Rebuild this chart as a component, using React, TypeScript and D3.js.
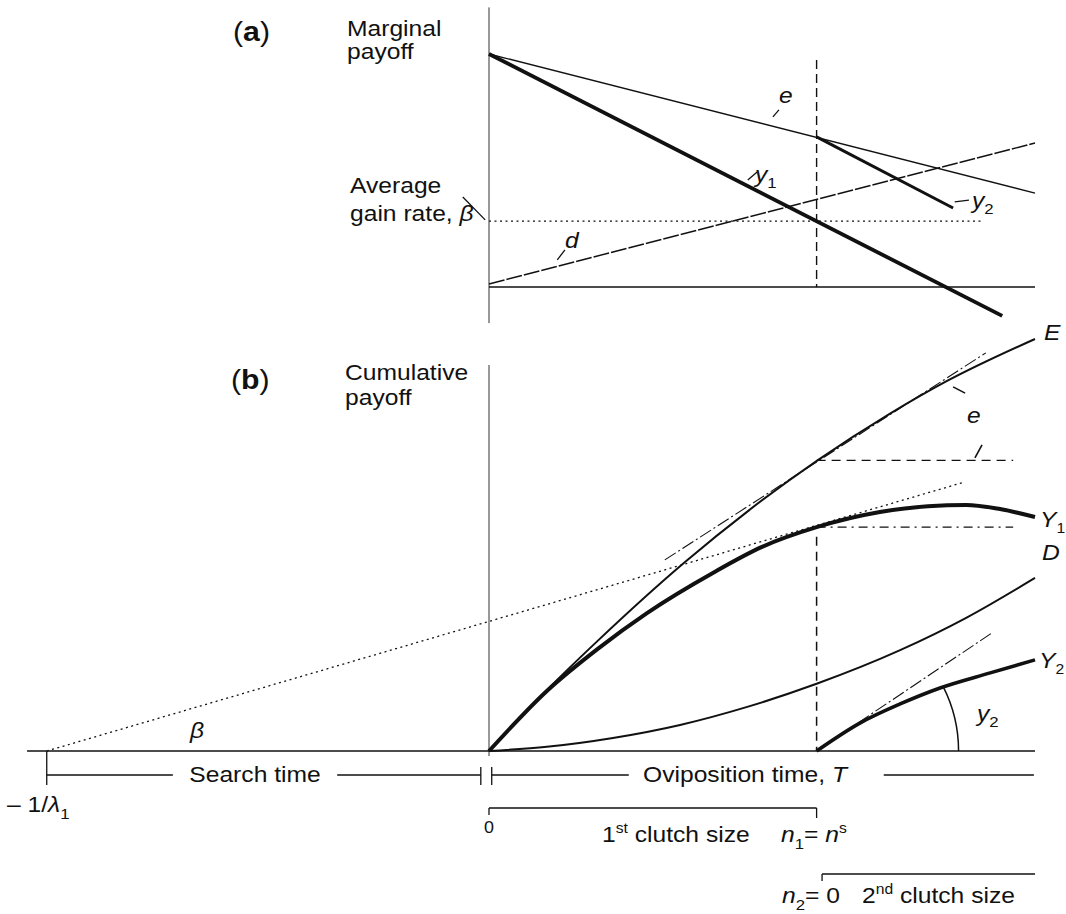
import React from 'react'
import * as d3 from 'd3'

const W = 1066
const H = 914

// shared time axis: 0 = start of oviposition
const tStart = -84.6
const tEnd = 100
const searchStart = -81 // -1/lambda1
const n1 = 60

// (a) marginal payoff, [time, value]
const eMarginal = [[0, 100], [100, 40.3]]
const y1Marginal = [[0, 100], [94, -12.4]]
const y2Marginal = [[60, 64.4], [85, 33.9]]
const dMarginal = [[0, 1.3], [100, 61.8]]
const betaRate = 28.3
const betaRateEnd = 90.3

// (b) cumulative payoff, [time, value]
const E = [[0, 0], [10.6, 14.5], [19.8, 26.1], [35.9, 45], [47.6, 57.3], [60.3, 69.3],
  [73.3, 80.2], [83.9, 88.1], [100, 98.1]]
const Y1 = [[0, 0], [10.6, 14.3], [19.8, 24.2], [29, 32.9], [41, 42.4], [50, 48.6], [60, 53.3],
  [71.6, 56.9], [80.4, 58.3], [87.4, 58.6], [93.6, 57.6], [100, 55.7]]
const D = [[0, 0], [10.6, 1], [22.7, 3.1], [35, 6.2], [47.3, 10.5], [60, 16], [75.3, 24], [87.4, 31.7], [100, 41.2]]
const Y2 = [[60, 0], [68, 6.7], [75.3, 11.2], [82.6, 15], [91.8, 18.6], [100, 21.7]]
const eTangent = [[32.2, 45.5], [91, 94.8]]
const y2Tangent = [[67.6, 6.7], [92.1, 28.1]]
const betaLine = [[-81, 0], [87, 64]]
const eAtN1 = 69.2
const y1AtN1 = 53.3
const guideEnd = 96
const arcRadius = 26 // in time units
const arcAngle = 0.47

const FONT = '"Liberation Sans", Arial, Helvetica, sans-serif'
const SX = 1.12
const INK = '#111'

function Txt({ x, y, size = 22, anchor = 'start', italic = false, children }: any) {
  return (
    <text transform={`translate(${x},${y}) scale(${SX},1)`} fontSize={size} textAnchor={anchor}
      fontStyle={italic ? 'italic' : 'normal'} fontFamily={FONT} fill={INK}>
      {children}
    </text>
  )
}

function Sub({ children, dy = 6, dx = 0, size = 15 }: any) {
  return <tspan fontSize={size} fontStyle="normal" dx={dx} dy={dy}>{children}</tspan>
}

export default function App() {
  const x = d3.scaleLinear().domain([0, 100]).range([489, 1035])
  const ya = d3.scaleLinear().domain([0, 100]).range([287, 54])
  const yb = d3.scaleLinear().domain([0, 100]).range([751, 331])

  const lineA = d3.line<number[]>().x(d => x(d[0])).y(d => ya(d[1]))
  const lineB = d3.line<number[]>().x(d => x(d[0])).y(d => yb(d[1]))
  const curveB = d3.line<number[]>().x(d => x(d[0])).y(d => yb(d[1])).curve(d3.curveMonotoneX)

  // angle arc for y2
  const cx = x(n1), cy = yb(0), r = x(n1 + arcRadius) - x(n1)
  const arc = d3.path()
  arc.arc(cx, cy, r, -arcAngle, 0)

  const seg = (x1: number, y1: number, x2: number, y2: number, extra: any = {}) => (
    <line x1={x1} y1={y1} x2={x2} y2={y2} stroke={INK} strokeWidth={1.3} {...extra} />
  )

  const bracketY = 775
  const clutch1Y = 808
  const clutch2Y = 874

  return (
    <svg width={W} height={H} style={{ position: 'absolute', left: 0, top: 0, background: '#fff' }}>
      {/* ---------- (a) ---------- */}
      <Txt x={233} y={41} size={27}>(<tspan fontWeight="bold">a</tspan>)</Txt>
      <Txt x={347} y={36}>Marginal</Txt>
      <Txt x={347} y={59}>payoff</Txt>
      <Txt x={350} y={193}>Average</Txt>
      <Txt x={350} y={221}>gain rate, <tspan fontStyle="italic">β</tspan></Txt>
      {seg(x(-4.8), ya(38.6), x(-0.7), ya(28.8))}

      {seg(x(0), ya(120), x(0), ya(-15.5), { stroke: '#333', strokeWidth: 1 })}
      {seg(x(0), ya(0), x(100), ya(0), { strokeWidth: 1.6 })}
      <path d={lineA(eMarginal) || ''} fill="none" stroke={INK} strokeWidth={1.4} />
      <path d={lineA(dMarginal) || ''} fill="none" stroke={INK} strokeWidth={1.4} strokeDasharray="16,2" />
      {seg(x(0), ya(betaRate), x(betaRateEnd), ya(betaRate), { strokeDasharray: '2,3.5', strokeWidth: 1.3 })}
      {seg(x(n1), ya(97.4), x(n1), ya(0), { strokeDasharray: '9,5', strokeWidth: 1.4 })}
      <path d={lineA(y1Marginal) || ''} fill="none" stroke={INK} strokeWidth={3.8} />
      <path d={lineA(y2Marginal) || ''} fill="none" stroke={INK} strokeWidth={3} />

      <Txt x={779} y={103} italic>e</Txt>
      {seg(x(52), ya(73), x(53.1), ya(76))}
      <Txt x={755} y={182} italic>y<Sub>1</Sub></Txt>
      {seg(x(47.4), ya(45.9), x(49.1), ya(49.4))}
      <Txt x={972} y={208} italic>y<Sub>2</Sub></Txt>
      {seg(x(85.3), ya(36.5), x(87.9), ya(37.3))}
      <Txt x={565} y={248} italic>d</Txt>
      {seg(x(12.5), ya(11.6), x(13.9), ya(15.9))}

      {/* ---------- (b) ---------- */}
      <Txt x={231} y={389} size={27}>(<tspan fontWeight="bold">b</tspan>)</Txt>
      <Txt x={345} y={380}>Cumulative</Txt>
      <Txt x={345} y={405}>payoff</Txt>

      {seg(x(0), yb(91.9), x(0), yb(-1.2), { stroke: '#333', strokeWidth: 1 })}
      {seg(x(tStart), yb(0), x(tEnd), yb(0), { strokeWidth: 1.6 })}

      <path d={lineB(betaLine) || ''} fill="none" stroke={INK} strokeWidth={1.3} strokeDasharray="2,3.5" />
      <path d={lineB(eTangent) || ''} fill="none" stroke={INK} strokeWidth={1.1} strokeDasharray="13,3,2,3" />
      <path d={lineB(y2Tangent) || ''} fill="none" stroke={INK} strokeWidth={1.1} strokeDasharray="13,3,2,3" />
      {seg(x(n1), yb(eAtN1), x(guideEnd), yb(eAtN1), { strokeDasharray: '9,6', strokeWidth: 1.3 })}
      {seg(x(n1), yb(y1AtN1), x(guideEnd), yb(y1AtN1), { strokeDasharray: '9,5,2,5', strokeWidth: 1.2 })}
      {seg(x(n1), yb(51), x(n1), yb(0), { strokeDasharray: '9,6', strokeWidth: 1.5 })}

      <path d={curveB(E) || ''} fill="none" stroke={INK} strokeWidth={2} />
      <path d={curveB(D) || ''} fill="none" stroke={INK} strokeWidth={2} />
      <path d={curveB(Y1) || ''} fill="none" stroke={INK} strokeWidth={4} />
      <path d={curveB(Y2) || ''} fill="none" stroke={INK} strokeWidth={3.6} />
      <path d={arc.toString()} fill="none" stroke={INK} strokeWidth={1.5} />

      <Txt x={1044} y={340} italic>E</Txt>
      <Txt x={967} y={423} italic>e</Txt>
      {seg(x(85), yb(86.7), x(87.2), yb(85.2), { strokeWidth: 1.6 })}
      {seg(x(90.3), yb(72.9), x(89), yb(69.8), { strokeWidth: 1.6 })}
      <Txt x={1040} y={527} italic>Y<Sub size={14}>1</Sub></Txt>
      <Txt x={1042} y={560} italic>D</Txt>
      <Txt x={1039} y={668} italic>Y<Sub size={14}>2</Sub></Txt>
      <Txt x={977} y={721} italic>y<Sub>2</Sub></Txt>
      <Txt x={190} y={738} italic>β</Txt>

      {/* time brackets */}
      {seg(x(searchStart), yb(0), x(searchStart), 785)}
      {seg(x(searchStart), bracketY, x(-57.9), bracketY)}
      <Txt x={255} y={782} anchor="middle">Search time</Txt>
      {seg(x(-27.8), bracketY, x(-1.5), bracketY)}
      {seg(x(-1.5), 767, x(-1.5), 785)}
      {seg(x(0.5), 767, x(0.5), 785)}
      {seg(x(0.5), bracketY, x(25.6), bracketY)}
      <Txt x={643} y={782}>Oviposition time, <tspan fontStyle="italic">T</tspan></Txt>
      {seg(x(72.3), bracketY, x(99.8), bracketY)}
      <Txt x={7} y={812}>– 1/<tspan fontStyle="italic">λ</tspan><Sub dy={7}>1</Sub></Txt>

      {/* clutch brackets */}
      {seg(x(0), clutch1Y, x(n1), clutch1Y)}
      {seg(x(0), clutch1Y, x(0), clutch1Y + 7)}
      {seg(x(n1), clutch1Y, x(n1), clutch1Y + 10)}
      <Txt x={x(0)} y={833} size={16} anchor="middle">0</Txt>
      <Txt x={602} y={842}>1<tspan fontSize={14} dy={-9}>st</tspan><tspan dy={9}> clutch size</tspan></Txt>
      <Txt x={781} y={842}><tspan fontStyle="italic">n</tspan><Sub dy={7}>1</Sub><tspan dy={-7}>= </tspan><tspan fontStyle="italic">n</tspan><tspan fontSize={14} dy={-9}>s</tspan></Txt>

      {seg(x(61), clutch2Y, x(100), clutch2Y)}
      {seg(x(61), clutch2Y, x(61), clutch2Y + 7)}
      <Txt x={782} y={903}><tspan fontStyle="italic">n</tspan><Sub dy={7}>2</Sub><tspan dy={-7}>= 0</tspan></Txt>
      <Txt x={862} y={903}>2<tspan fontSize={14} dy={-9}>nd</tspan><tspan dy={9}> clutch size</tspan></Txt>
    </svg>
  )
}
